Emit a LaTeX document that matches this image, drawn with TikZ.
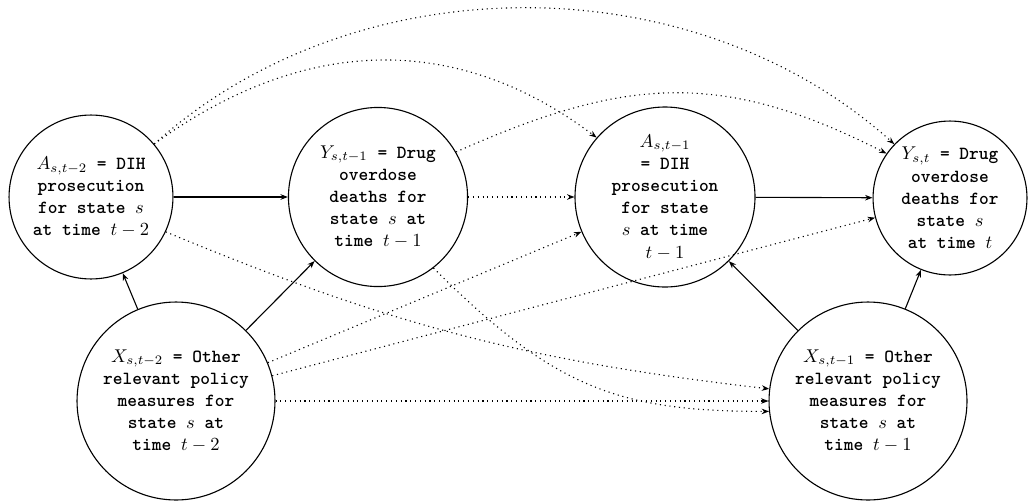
\documentclass[tikz,border=0pt]{standalone}
\usetikzlibrary{arrows.meta}
\begin{document}
\begin{tikzpicture}[x=0.5405pt,y=0.5405pt,
  st/.style={circle, draw, line width=0.6pt, inner sep=0pt, align=center, font=\ttfamily\bfseries},
  sol/.style={-{Stealth[length=4pt,width=3pt]}, line width=0.6pt},
  dot/.style={sol, dotted}]
\useasboundingbox (0,0) rectangle (1028,502);
\node[st, minimum size=88.6pt] (At2) at (91,305) {$A_{s,t-2}$ = DIH\\prosecution\\for state $s$\\at time $t-2$};
\node[st, minimum size=96.8pt] (Yt1) at (378,305) {$Y_{s,t-1}$ = Drug\\overdose\\deaths for\\state $s$ at\\time $t-1$};
\node[st, minimum size=97.3pt] (At1) at (665,305) {$A_{s,t-1}$\\= DIH\\prosecution\\for state\\$s$ at time\\$t-1$};
\node[st, minimum size=83.2pt] (Yt) at (950,304) {$Y_{s,t}$ = Drug\\overdose\\deaths for\\state $s$\\at time $t$};
\node[st, minimum size=107pt] (Xt2) at (176,101) {$X_{s,t-2}$ = Other\\relevant policy\\measures for\\state $s$ at\\time $t-2$};
\node[st, minimum size=107pt] (Xt1) at (868,101) {$X_{s,t-1}$ = Other\\relevant policy\\measures for\\state $s$ at\\time $t-1$};
% solid
\draw[sol] (At2) -- (Yt1);
\draw[sol] (Xt2) -- (At2);
\draw[sol] (Xt2) -- (Yt1);
\draw[sol] (At1) -- (Yt);
\draw[sol] (Xt1) -- (At1);
\draw[sol] (Xt1) -- (Yt);
% dotted
\draw[dot] (Yt1) -- (At1);
\draw[dot] (Xt2) -- (Xt1);
\draw[dot] (Xt2) -- (At1);
\draw[dot] (Xt2) -- (Yt);
\draw[dot] (At2.40) .. controls +(36:180) and +(143:180) .. (At1.139);
\draw[dot] (At2.40) .. controls +(42:271) and +(138:271) .. (Yt.136);
\draw[dot] (Yt1.30) .. controls +(24:185) and +(153:185) .. (Yt.145);
\draw[dot] (At2.-25) to[bend right=8] (Xt1.173);
\draw[dot] (Yt1.-52) .. controls +(-45:170) and +(180:150) .. (Xt1.186);
\end{tikzpicture}
\end{document}
